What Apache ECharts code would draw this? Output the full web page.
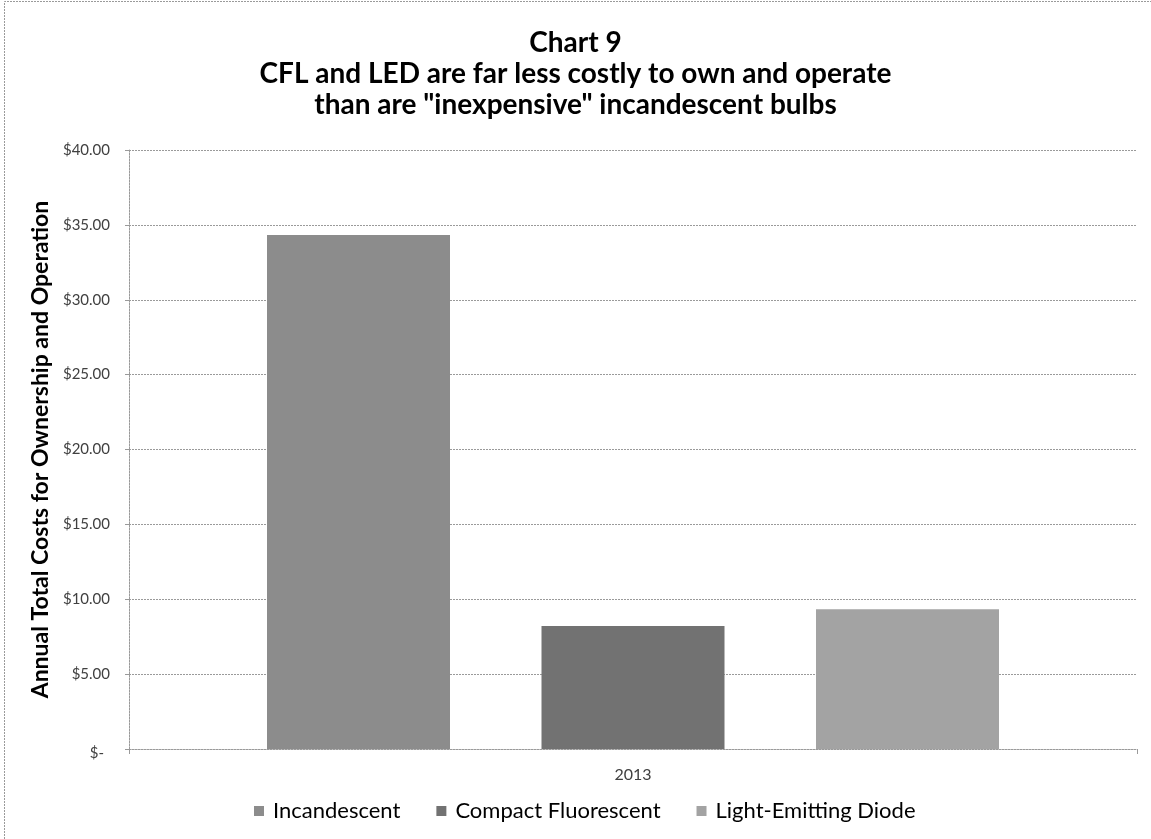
<!DOCTYPE html>
<html>
<head>
<meta charset="utf-8">
<script src="https://cdn.jsdelivr.net/npm/echarts@6/dist/echarts.min.js"></script>
<style>
  html, body { margin: 0; padding: 0; background: #fff; }
  #chart { width: 1151px; height: 839px; }
</style>
</head>
<body>
<div id="chart"></div>
<script>
// Annual cost of owning and running one bulb, by lighting technology
const categories = ['2013'];
const seriesNames = ['Incandescent', 'Compact Fluorescent', 'Light-Emitting Diode'];
const incandescent = [34.33];
const compactFluorescent = [8.22];
const lightEmittingDiode = [9.34];
const seriesValues = [incandescent, compactFluorescent, lightEmittingDiode];
const seriesColors = ['#8c8c8c', '#727272', '#a3a3a3'];
const titleLines = [
  'Chart 9',
  'CFL and LED are far less costly to own and operate',
  'than are "inexpensive" incandescent bulbs'
];
const yAxisTitle = 'Annual Total Costs for Ownership and Operation';

const FONT = 'Lato, "Liberation Sans", sans-serif';

const chart = echarts.init(document.getElementById('chart'), null, { renderer: 'canvas' });

function dollars(v) {
  if (v === 0) return '{z|$-}';
  return '$' + v.toFixed(2);
}

chart.setOption({
  backgroundColor: '#ffffff',
  animation: false,
  title: {
    text: titleLines.join('\n'),
    left: 'center',
    top: 22,
    textStyle: {
      fontFamily: FONT,
      fontWeight: 'bold',
      fontSize: 28,
      lineHeight: 31,
      color: '#000000'
    }
  },
  grid: { left: 129, right: 14, top: 150, bottom: 90, containLabel: false },
  legend: {
    top: 800,
    left: 254,
    padding: 0,
    itemWidth: 10,
    itemHeight: 10,
    itemGap: 36,
    icon: 'rect',
    textStyle: { fontFamily: FONT, fontSize: 22, color: '#000000', padding: [0, 0, 0, 4] },
    data: seriesNames
  },
  xAxis: {
    type: 'category',
    data: categories,
    boundaryGap: true,
    axisLine: { lineStyle: { color: '#9a9a9a', type: [2, 1], width: 1 } },
    axisTick: { show: true, length: 5, lineStyle: { color: '#9a9a9a' } },
    axisLabel: { fontFamily: FONT, fontSize: 16, color: '#404040', margin: 18 }
  },
  yAxis: {
    type: 'value',
    min: 0,
    max: 40,
    interval: 5,
    name: yAxisTitle,
    nameLocation: 'middle',
    nameGap: 76,
    nameRotate: 90,
    nameTextStyle: { fontFamily: FONT, fontWeight: 'bold', fontSize: 23, color: '#000000' },
    axisLine: { show: true, lineStyle: { color: '#9a9a9a', type: [2, 1], width: 1 } },
    axisTick: { show: true, inside: false, length: 4, lineStyle: { color: '#9a9a9a' } },
    axisLabel: {
      fontFamily: FONT,
      fontSize: 15,
      color: '#404040',
      margin: 19,
      formatter: dollars,
      rich: { z: { fontFamily: FONT, fontSize: 15, color: '#404040', padding: [8, 6, 0, 0] } }
    },
    splitLine: { show: true, lineStyle: { color: '#9a9a9a', type: [2, 1], width: 1 } }
  },
  series: seriesNames.map((name, i) => ({
    name: name,
    type: 'bar',
    data: seriesValues[i],
    barWidth: 183,
    barGap: '50%',
    itemStyle: { color: seriesColors[i] }
  })),
  graphic: [
    {
      type: 'polyline',
      silent: true,
      shape: { points: [[4.5, 839], [4.5, 1.5], [1151, 1.5]] },
      style: { fill: null, stroke: '#9a9a9a', lineWidth: 1, lineDash: [2, 1] }
    }
  ]
});
</script>
</body>
</html>
